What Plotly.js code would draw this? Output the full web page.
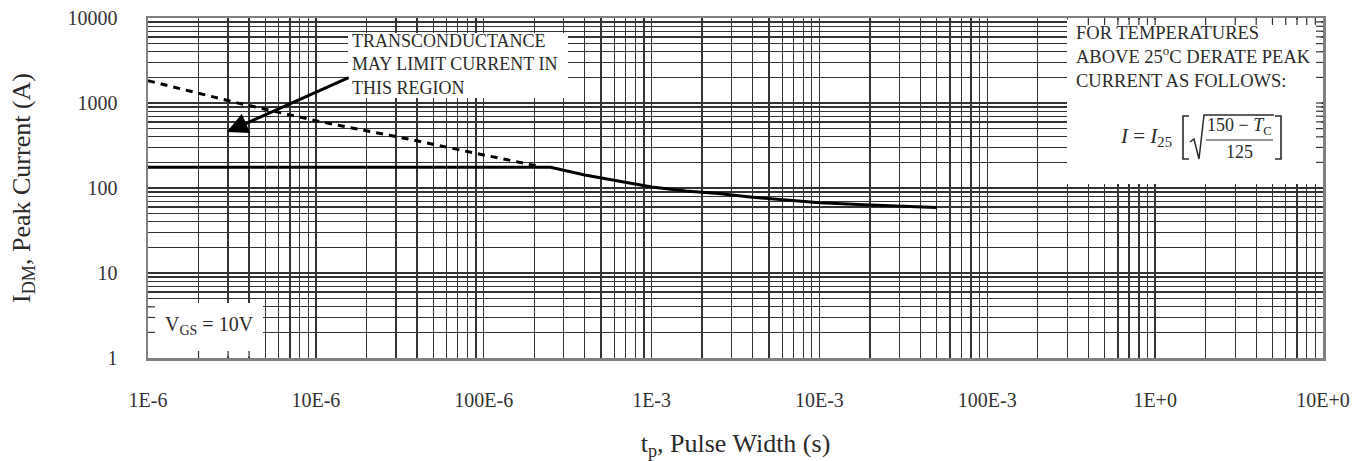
<!DOCTYPE html>
<html>
<head>
<meta charset="utf-8">
<script src="https://cdn.plot.ly/plotly-3.0.1.min.js"></script>
<style>html,body{margin:0;padding:0;background:#fff;}#chart{width:1355px;height:461px;}</style>
</head>
<body>
<div id="chart"></div>
<script>
// ---- data ----
const tpDash  = [1e-6, 3.5e-6, 1.06e-5, 3.8e-5, 8.6e-5, 2.2e-4];
const idmDash = [1830, 990, 603, 367, 260, 178];

const tpSolid  = [1e-6, 2.5e-4, 4e-4, 6.5e-4, 1e-3, 1.6e-3, 2.5e-3, 4e-3, 6.4e-3, 1e-2, 2e-2, 3e-2, 5e-2];
const idmSolid = [175, 175, 142, 119, 103, 92, 86, 78, 72, 67, 63, 61, 59];

const xTickVals = [1e-6, 1e-5, 1e-4, 1e-3, 1e-2, 1e-1, 1, 10];
const xTickText = ["1E-6", "10E-6", "100E-6", "1E-3", "10E-3", "100E-3", "1E+0", "10E+0"];
const yTickVals = [1, 10, 100, 1000, 10000];
const yTickText = ["1", "10", "100", "1000", "10000"];

// ---- layout helpers (pixel -> paper) ----
const L = 148, R = 32, T = 18, B = 103, W = 1355, H = 461;
const PW = W - L - R, PH = H - T - B;
const px = x => (x - L) / PW;
const py = y => (H - B - y) / PH;
const serif = "Liberation Serif, Times New Roman, serif";
const ink = "#2a2a2a";

const traces = [
  {x: tpDash, y: idmDash, mode: "lines", type: "scatter",
   line: {color: "#000", width: 3, dash: "7px,6px"}, hoverinfo: "skip"},
  {x: tpSolid, y: idmSolid, mode: "lines", type: "scatter",
   line: {color: "#000", width: 3}, hoverinfo: "skip"}
];

function rectShape(x0, y0, x1, y1) {
  return {type: "rect", xref: "paper", yref: "paper", layer: "above",
    x0: px(x0), x1: px(x1), y0: py(y1), y1: py(y0),
    fillcolor: "#fff", line: {width: 0}};
}
function pathShape(pts, width) {
  const d = pts.map((p, i) => (i ? "L" : "M") + px(p[0]) + "," + py(p[1])).join(" ");
  return {type: "path", xref: "paper", yref: "paper", layer: "above", path: d,
    line: {color: ink, width: width || 1.3}};
}

const shapes = [
  rectShape(348, 33, 568, 98),
  rectShape(1067, T + 1.5, W - R - 1.5, 184),
  rectShape(L + 1.5, 303, 263, H - B - 1.5),
  // formula decorations
  pathShape([[1189, 116], [1183, 116], [1183, 159], [1189, 159]], 1.6),
  pathShape([[1275, 116], [1281, 116], [1281, 159], [1275, 159]], 1.6),
  pathShape([[1190, 142], [1194, 139], [1199, 159], [1204, 115], [1274, 115]], 1.5),
  pathShape([[1206, 140], [1273, 140]], 1.2)
];

// inner tick marks that stay visible on the frame inside the white boxes
const tickLenX = 7 / PH, tickLenY = 7 / PW;
function xTick(v, top) {
  shapes.push({type: "line", xref: "x", yref: "paper", layer: "above",
    x0: v, x1: v, y0: top ? 1 : 0, y1: top ? 1 - tickLenX : tickLenX,
    line: {color: "#333", width: 1.2}});
}
function yTick(v, right) {
  shapes.push({type: "line", xref: "paper", yref: "y", layer: "above",
    y0: v, y1: v, x0: right ? 1 : 0, x1: right ? 1 - tickLenY : tickLenY,
    line: {color: "#333", width: 1.2}});
}
// V_GS box: bottom and left edges
[2e-6, 3e-6, 4e-6].forEach(v => xTick(v, false));
[2, 3, 4].forEach(v => yTick(v, false));
// derating box: top and right edges
[4e-1, 5e-1, 6e-1, 7e-1, 8e-1, 9e-1, 1, 2, 3, 4, 5, 6, 7, 8, 9].forEach(v => xTick(v, true));
[200, 300, 400, 500, 600, 700, 800, 900, 1000, 2000, 3000, 4000, 5000, 6000, 7000, 8000, 9000].forEach(v => yTick(v, true));

function txt(text, x, y, size, anchor) {
  return {text: text, xref: "paper", yref: "paper", x: px(x), y: py(y),
    xanchor: anchor || "left", yanchor: "middle", showarrow: false,
    align: anchor === "center" ? "center" : "left",
    font: {family: serif, size: size, color: ink}};
}

const annotations = [
  txt("TRANSCONDUCTANCE<br>MAY LIMIT CURRENT IN<br>THIS REGION", 350, 65, 18),
  txt("FOR TEMPERATURES<br>ABOVE 25<sup>o</sup>C DERATE PEAK<br>CURRENT AS FOLLOWS:", 1074, 57, 18.5),
  txt("<i>I</i> = <i>I</i><sub>25</sub>", 1146, 137, 21, "center"),
  txt("150 − <i>T</i><sub>C</sub>", 1239, 127, 18, "center"),
  txt("125", 1239, 152, 18, "center"),
  txt("V<sub>GS</sub> = 10V", 163, 325, 20),
  {x: Math.log10(2.95e-6), y: Math.log10(456), xref: "x", yref: "y",
   ax: Math.log10(1.6e-5), ay: Math.log10(2020), axref: "x", ayref: "y",
   showarrow: true, arrowhead: 2, arrowsize: 1.4, arrowwidth: 3, arrowcolor: "#000", text: ""}
];

const axisCommon = {
  type: "log", showline: true, linecolor: "#808080", linewidth: 2.5, mirror: "ticks",
  ticks: "inside", ticklen: 6, tickcolor: "#333", tickwidth: 1,
  showgrid: true, gridcolor: "#333", gridwidth: 1.3, zeroline: false,
  tickmode: "array", tickfont: {family: serif, size: 20, color: "#333"},
  minor: {tickmode: "linear", dtick: "D1", showgrid: true, gridcolor: "#333", gridwidth: 1.3,
          ticks: "inside", ticklen: 5, tickcolor: "#333"},
  fixedrange: true, automargin: false
};

const layout = {
  width: W, height: H, margin: {l: L, r: R, t: T, b: B},
  paper_bgcolor: "#fff", plot_bgcolor: "#fff", showlegend: false,
  xaxis: Object.assign({}, axisCommon, {
    range: [-6, 1], tickvals: xTickVals, ticktext: xTickText, ticklabelstandoff: 22,
    title: {text: "t<sub>p</sub>, Pulse Width (s)", standoff: 27,
            font: {family: serif, size: 26, color: ink}}
  }),
  yaxis: Object.assign({}, axisCommon, {
    range: [0, 4], tickvals: yTickVals, ticktext: yTickText, ticklabelstandoff: 24,
    title: {text: "I<sub>DM</sub>, Peak Current (A)", standoff: 30,
            font: {family: serif, size: 26, color: ink}}
  }),
  shapes: shapes,
  annotations: annotations
};

Plotly.newPlot("chart", traces, layout, {staticPlot: true, displayModeBar: false});
</script>
</body>
</html>
